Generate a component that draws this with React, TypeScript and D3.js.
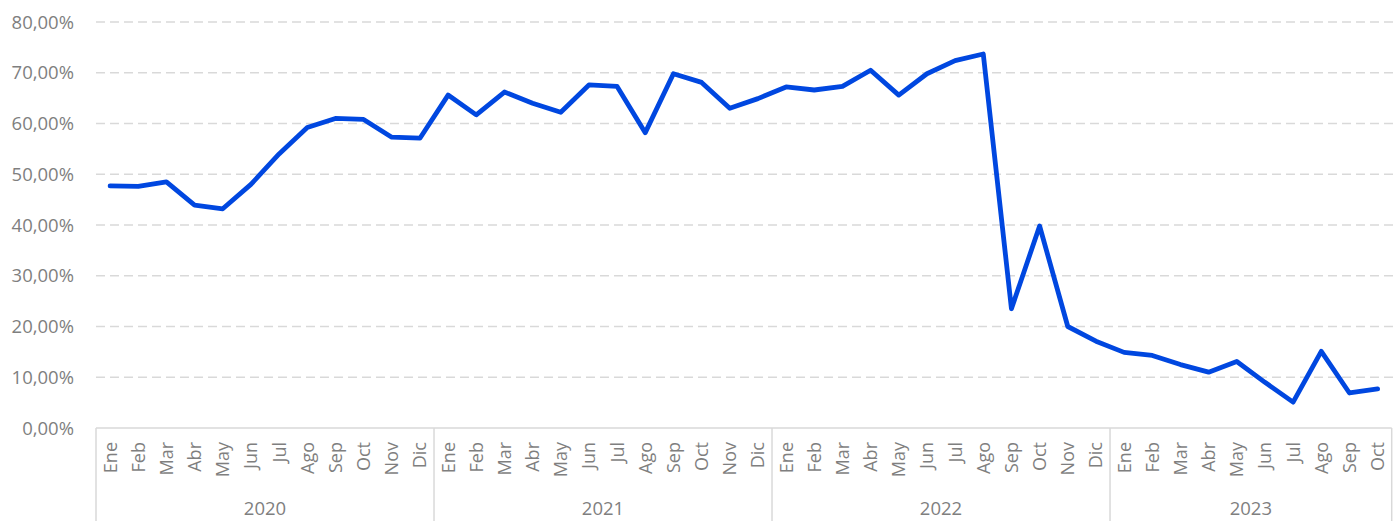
import * as d3 from "d3";
import React, { useEffect } from "react";

const years = ["2020", "2021", "2022", "2023"];
const monthNames = ["Ene", "Feb", "Mar", "Abr", "May", "Jun", "Jul", "Ago", "Sep", "Oct", "Nov", "Dic"];
const monthsPerYear = [12, 12, 12, 10];

const values2020 = [47.7, 47.6, 48.5, 43.9, 43.2, 48.0, 54.0, 59.2, 61.0, 60.8, 57.3, 57.1];
const values2021 = [65.6, 61.7, 66.2, 64.0, 62.2, 67.6, 67.3, 58.2, 69.8, 68.1, 63.0, 64.9];
const values2022 = [67.2, 66.6, 67.3, 70.5, 65.6, 69.8, 72.4, 73.7, 23.5, 39.8, 20.0, 17.1];
const values2023 = [14.9, 14.3, 12.5, 11.0, 13.1, 9.0, 5.1, 15.1, 6.9, 7.7];

const yTicks = [0, 10, 20, 30, 40, 50, 60, 70, 80];

type Point = { key: string; month: string; year: string; value: number };

const points: Point[] = [values2020, values2021, values2022, values2023].flatMap((vals, yi) =>
  vals.map((v, mi) => ({
    key: `${years[yi]}-${mi}`,
    month: monthNames[mi],
    year: years[yi],
    value: v,
  }))
);

const W = 1400;
const H = 521;
const left = 96;
const right = 1391.7;
const top = 22;
const bottom = 428;

const locale = d3.formatLocale({
  decimal: ",",
  thousands: ".",
  grouping: [3],
  currency: ["", "€"],
});
const fmt = (v: number) => locale.format(".2f")(v) + "%";

const App: React.FC = () => {
  useEffect(() => {
    document.body.style.margin = "0";
  }, []);

  const x = d3
    .scaleBand<string>()
    .domain(points.map((p) => p.key))
    .range([left, right])
    .paddingInner(0)
    .paddingOuter(0);

  const y = d3.scaleLinear().domain([0, 80]).range([bottom, top]);

  const line = d3
    .line<Point>()
    .x((d) => (x(d.key) as number) + x.bandwidth() / 2)
    .y((d) => y(d.value));

  // year boundaries
  let acc = 0;
  const yearSpans = years.map((yr, i) => {
    const start = acc;
    acc += monthsPerYear[i];
    const x0 = x(points[start].key) as number;
    const x1 = (x(points[acc - 1].key) as number) + x.bandwidth();
    return { yr, x0, x1 };
  });

  const textColor = "#7f7f7f";
  const gridColor = "#d9d9d9";
  const font = "'Open Sans', 'Noto Sans', sans-serif";

  return (
    <svg width={W} height={H} style={{ display: "block", background: "#fff" }} fontFamily={font}>
      {yTicks.map((t) => (
        <g key={t}>
          {t > 0 && (
            <line
              x1={left}
              x2={1395}
              y1={y(t)}
              y2={y(t)}
              stroke={gridColor}
              strokeWidth={1.5}
              strokeDasharray="9,5"
            />
          )}
          <text
            x={74}
            y={y(t)}
            dy="0.36em"
            textAnchor="end"
            fontSize={18.5}
            fill={textColor}
          >
            {fmt(t)}
          </text>
        </g>
      ))}

      {/* category axis box */}
      <line x1={left} x2={right} y1={bottom} y2={bottom} stroke={gridColor} strokeWidth={1.5} />
      {yearSpans.map((s, i) => (
        <g key={s.yr}>
          {i === 0 && <line x1={s.x0} x2={s.x0} y1={bottom} y2={H} stroke={gridColor} strokeWidth={1.5} />}
          <line x1={s.x1} x2={s.x1} y1={bottom} y2={H} stroke={gridColor} strokeWidth={1.5} />
          <text x={(s.x0 + s.x1) / 2} y={515} textAnchor="middle" fontSize={18.5} fill={textColor}>
            {s.yr}
          </text>
        </g>
      ))}

      {points.map((p) => {
        const cx = (x(p.key) as number) + x.bandwidth() / 2;
        return (
          <text
            key={p.key}
            transform={`translate(${cx},442) rotate(-90)`}
            dy="0.36em"
            textAnchor="end"
            fontSize={18}
            fill={textColor}
          >
            {p.month}
          </text>
        );
      })}

      <path
        d={line(points) ?? ""}
        fill="none"
        stroke="#0047e0"
        strokeWidth={4.8}
        strokeLinejoin="round"
        strokeLinecap="round"
      />
    </svg>
  );
};

export default App;
